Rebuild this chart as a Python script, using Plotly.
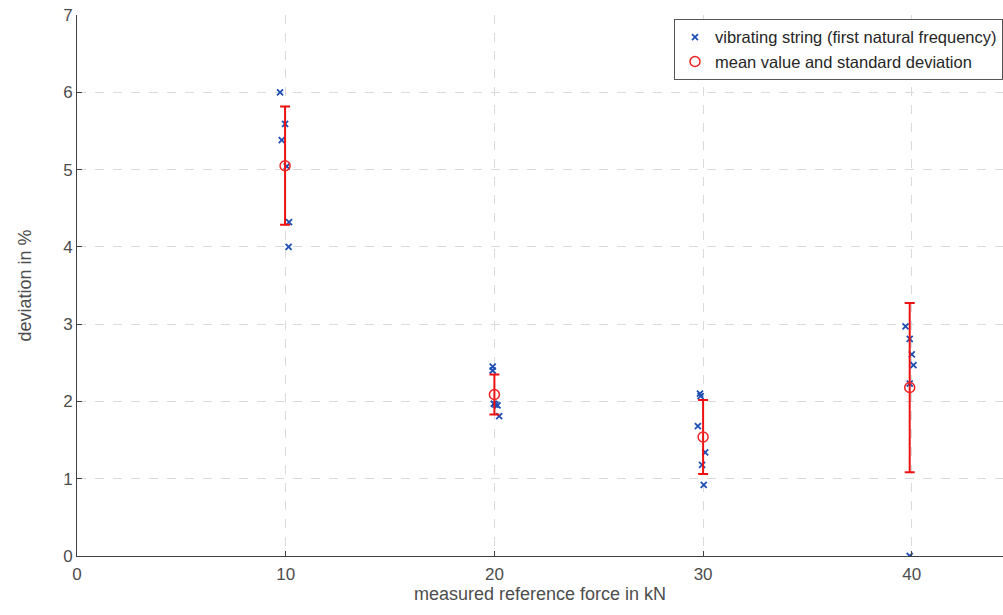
import plotly.graph_objects as go

# measured data (deviation in %)
string_x = [9.73, 9.97, 9.81, 10.05, 10.16, 10.14,
            19.92, 19.92, 19.97, 20.15, 20.05, 20.23,
            29.85, 29.88, 29.75, 30.1, 29.95, 30.03,
            39.7, 39.9, 40.0, 40.08, 39.9, 39.9]
string_y = [6.00, 5.59, 5.38, 5.04, 4.32, 4.00,
            2.45, 2.40, 1.97, 1.95, 1.96, 1.81,
            2.10, 2.07, 1.68, 1.34, 1.18, 0.92,
            2.97, 2.81, 2.61, 2.47, 2.23, 0.00]

mean_x = [9.97, 20.0, 30.0, 39.9]
mean_y = [5.05, 2.09, 1.54, 2.18]
std_y = [0.765, 0.26, 0.48, 1.095]

x_ticks = [0, 10, 20, 30, 40]
y_ticks = [0, 1, 2, 3, 4, 5, 6, 7]

font_family = "Liberation Sans, Arial, sans-serif"
axis_col = "#404040"

fig = go.Figure()
fig.add_trace(go.Scatter(
    x=string_x, y=string_y, mode="markers",
    name="vibrating string (first natural frequency)",
    marker=dict(symbol="x-thin-open", size=6, color="#1f4fb4",
                line=dict(width=1.8, color="#1f4fb4")),
))
fig.add_trace(go.Scatter(
    x=mean_x, y=mean_y, mode="markers",
    name="mean value and standard deviation",
    marker=dict(symbol="circle-open", size=10, color="#ee2222",
                line=dict(width=1.5, color="#ee2222")),
    error_y=dict(type="data", array=std_y, visible=True,
                 color="#ee1111", thickness=2, width=5),
))

fig.update_layout(
    width=1003, height=615,
    margin=dict(l=77, r=0, t=15, b=59),
    paper_bgcolor="white", plot_bgcolor="white",
    font=dict(family=font_family, color=axis_col, size=17),
    showlegend=True,
    legend=dict(x=0.645, y=0.993, xanchor="left", yanchor="top",
                bgcolor="white", bordercolor="#555555", borderwidth=1,
                font=dict(size=16.5, color="#262626"),
                tracegroupgap=0, itemwidth=30),
)
fig.update_xaxes(
    range=[0, 44.37], tickvals=x_ticks, ticks="inside", ticklen=5,
    tickcolor=axis_col, showline=True, linecolor=axis_col, linewidth=1,
    showgrid=True, gridcolor="#dadada", griddash="dash", gridwidth=1,
    zeroline=False, tickfont=dict(size=17, color="#4d4d4d"),
    ticklabelstandoff=3,
    title=dict(text="measured reference force in kN", font=dict(size=18, color="#4d4d4d"), standoff=2),
)
fig.update_yaxes(
    range=[0, 7], tickvals=y_ticks, ticks="inside", ticklen=5,
    tickcolor=axis_col, showline=True, linecolor=axis_col, linewidth=1,
    showgrid=True, gridcolor="#dadada", griddash="dash", gridwidth=1,
    zeroline=False, tickfont=dict(size=17, color="#4d4d4d"),
    ticksuffix="\u00a0",
    title=dict(text="deviation in %", font=dict(size=18, color="#4d4d4d"), standoff=26),
)

fig.write_html("out.html")
